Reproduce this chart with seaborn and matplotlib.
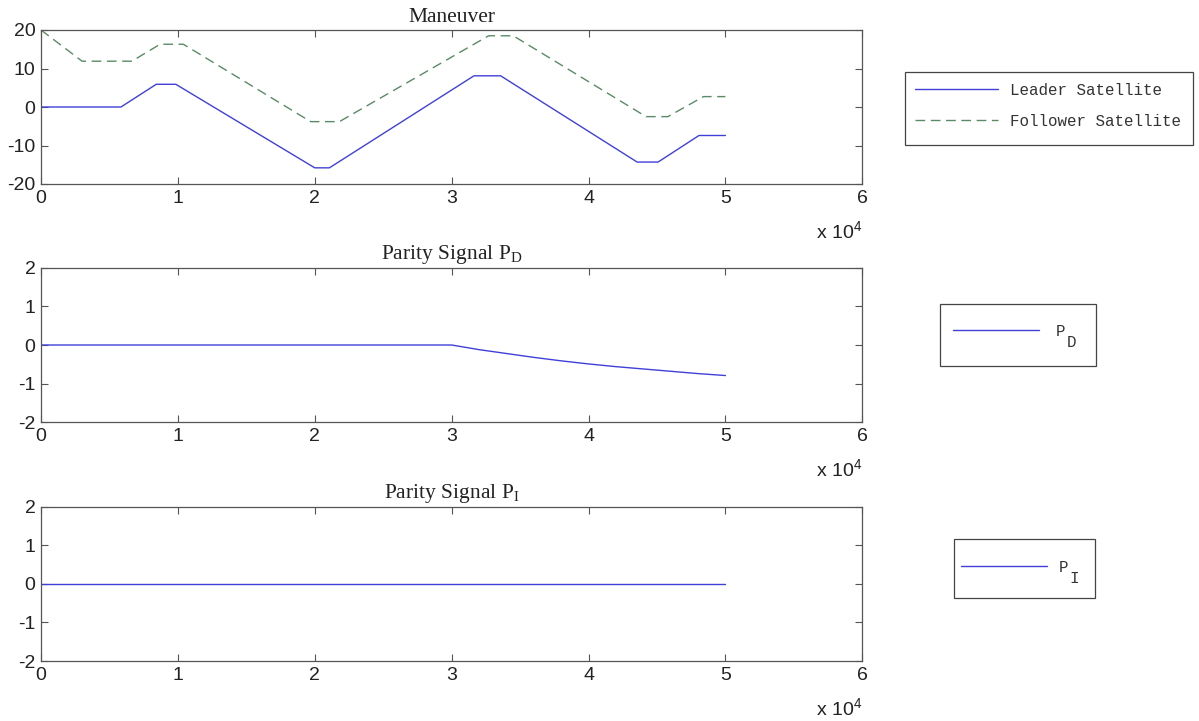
import numpy as np
import pandas as pd
import matplotlib
matplotlib.use("Agg")
import matplotlib.pyplot as plt
from matplotlib.patches import Rectangle
import seaborn as sns

# ---------------- data ----------------
leader_t = [0, 5840, 8420, 9850, 20000, 21070, 31630, 33580, 43550, 45080, 48070, 50000]
leader_v = [0, 0, 5.9, 5.9, -15.8, -15.8, 8.1, 8.1, -14.3, -14.3, -7.4, -7.4]

follower_t = [0, 3000, 6640, 8700, 10400, 19700, 21800, 32700, 34500, 44200, 45800, 48400, 50000]
follower_v = [20, 11.9, 11.9, 16.3, 16.3, -3.8, -3.8, 18.5, 18.5, -2.5, -2.5, 2.7, 2.7]

pd_t = [0, 10000, 20000, 30000, 32000, 34000, 36000, 38000, 40000, 42000, 44000, 46000, 48000, 50000]
pd_v = [0, 0, 0, 0, -0.12, -0.22, -0.32, -0.41, -0.49, -0.56, -0.62, -0.68, -0.74, -0.79]

pi_t = [0, 10000, 20000, 30000, 40000, 50000]
pi_v = [0, 0, 0, 0, 0, 0]

xtick_vals = [0, 10000, 20000, 30000, 40000, 50000, 60000]
xtick_labels = ["0", "1", "2", "3", "4", "5", "6"]

titles = ["Maneuver", r"Parity Signal P$_\mathregular{D}$", r"Parity Signal P$_\mathregular{I}$"]
leg_labels = [["Leader Satellite", "Follower Satellite"], ["P"], ["P"]]
leg_subs = [None, "D", "I"]

# ---------------- style ----------------
sns.set_theme(style="white")
plt.rcParams.update({
    "font.family": ["Liberation Sans", "DejaVu Sans"],
    "xtick.direction": "in", "ytick.direction": "in",
    "xtick.top": True, "ytick.right": True,
    "xtick.bottom": True, "ytick.left": True,
    "xtick.major.size": 5, "ytick.major.size": 5,
    "xtick.major.width": 0.8, "ytick.major.width": 0.8,
    "xtick.color": "#555555", "ytick.color": "#555555",
    "xtick.labelcolor": "#222222", "ytick.labelcolor": "#222222",
    "axes.edgecolor": "#555555", "axes.linewidth": 0.9,
})

BLUE = "#4040d8"
GREEN = "#5a8a66"

fig = plt.figure(figsize=(11.99, 7.21), dpi=100)
W, H = 1199, 721

def fx(px):
    return px / W

def fy(py):
    return 1 - py / H

ax_pix = [(30, 184), (267.7, 422.3), (506.7, 661)]
axes = []
for top, bot in ax_pix:
    ax = fig.add_axes([fx(41), fy(bot), fx(862.3) - fx(41), (bot - top) / H])
    axes.append(ax)

df1 = pd.DataFrame({"t": leader_t, "v": leader_v})
df2 = pd.DataFrame({"t": follower_t, "v": follower_v})
sns.lineplot(data=df1, x="t", y="v", ax=axes[0], color=BLUE, lw=1.0, sort=False, estimator=None, legend=False)
sns.lineplot(data=df2, x="t", y="v", ax=axes[0], color=GREEN, lw=1.0, sort=False, estimator=None, legend=False)
axes[0].lines[1].set_linestyle((0, (7, 4)))

df3 = pd.DataFrame({"t": pd_t, "v": pd_v})
sns.lineplot(data=df3, x="t", y="v", ax=axes[1], color=BLUE, lw=1.0, sort=False, estimator=None, legend=False)
df4 = pd.DataFrame({"t": pi_t, "v": pi_v})
sns.lineplot(data=df4, x="t", y="v", ax=axes[2], color=BLUE, lw=1.0, sort=False, estimator=None, legend=False)

ylims = [(-20, 20), (-2, 2), (-2, 2)]
yticks = [[-20, -10, 0, 10, 20], [-2, -1, 0, 1, 2], [-2, -1, 0, 1, 2]]
for ax, title, yl, yt in zip(axes, titles, ylims, yticks):
    ax.set_xlim(0, 60000)
    ax.set_ylim(*yl)
    ax.set_xticks(xtick_vals)
    ax.set_xticklabels(xtick_labels)
    ax.set_yticks(yt)
    ax.set_yticklabels([str(v) for v in yt])
    ax.tick_params(labelsize=14, pad=4)
    ax.set_xlabel("")
    ax.set_ylabel("")
    ax.set_title(title, fontsize=15.5, family=["Liberation Serif", "DejaVu Serif"], color="#222222", pad=6)
    for s in ax.spines.values():
        s.set_visible(True)
    ax.text(1.0, -0.305, r"x $\mathregular{10^4}$", transform=ax.transAxes, ha="right", va="center",
            fontsize=14, color="#222222")

# legends
mono = {"family": ["Liberation Mono", "DejaVu Sans Mono"], "size": 11.4}
leg_specs = [
    dict(box=(905, 72.3, 1193.3, 145), anchor=(915, 105.8), hl=5.25, htp=0.76),
    dict(box=(940, 304, 1095.7, 365.7), anchor=(953, 331), hl=5.4, htp=1.1),
    dict(box=(954.3, 539.3, 1095.3, 598.3), anchor=(961, 567.3), hl=5.4, htp=0.8),
]
legs = []
for ax, labels, spec in zip(axes, leg_labels, leg_specs):
    handles = ax.lines[:len(labels)]
    x0, y0, x1, y1 = spec["box"]
    fig.add_artist(Rectangle((fx(x0), fy(y1)), fx(x1) - fx(x0), (y1 - y0) / H,
                             transform=fig.transFigure, fill=False, edgecolor="#444444", lw=0.9))
    leg = ax.legend(handles, labels, loc="center left",
                    bbox_to_anchor=(fx(spec["anchor"][0]), fy(spec["anchor"][1])),
                    bbox_transform=fig.transFigure, frameon=False, borderpad=0, borderaxespad=0,
                    handlelength=spec["hl"], handletextpad=spec["htp"], labelspacing=1.0,
                    prop=mono, labelcolor="#333333")
    legs.append(leg)

# lowered subscripts after the legend "P"
fig.canvas.draw()
for leg, sub in zip(legs, leg_subs):
    if sub is None:
        continue
    bb = leg.get_texts()[0].get_window_extent()
    fig.text(bb.x1 / W + 0.001, (bb.y0 - 4) / H, sub, ha="left", va="center",
             family=["Liberation Mono", "DejaVu Sans Mono"], fontsize=11.4, color="#333333")

fig.savefig("out.png", dpi=100)
